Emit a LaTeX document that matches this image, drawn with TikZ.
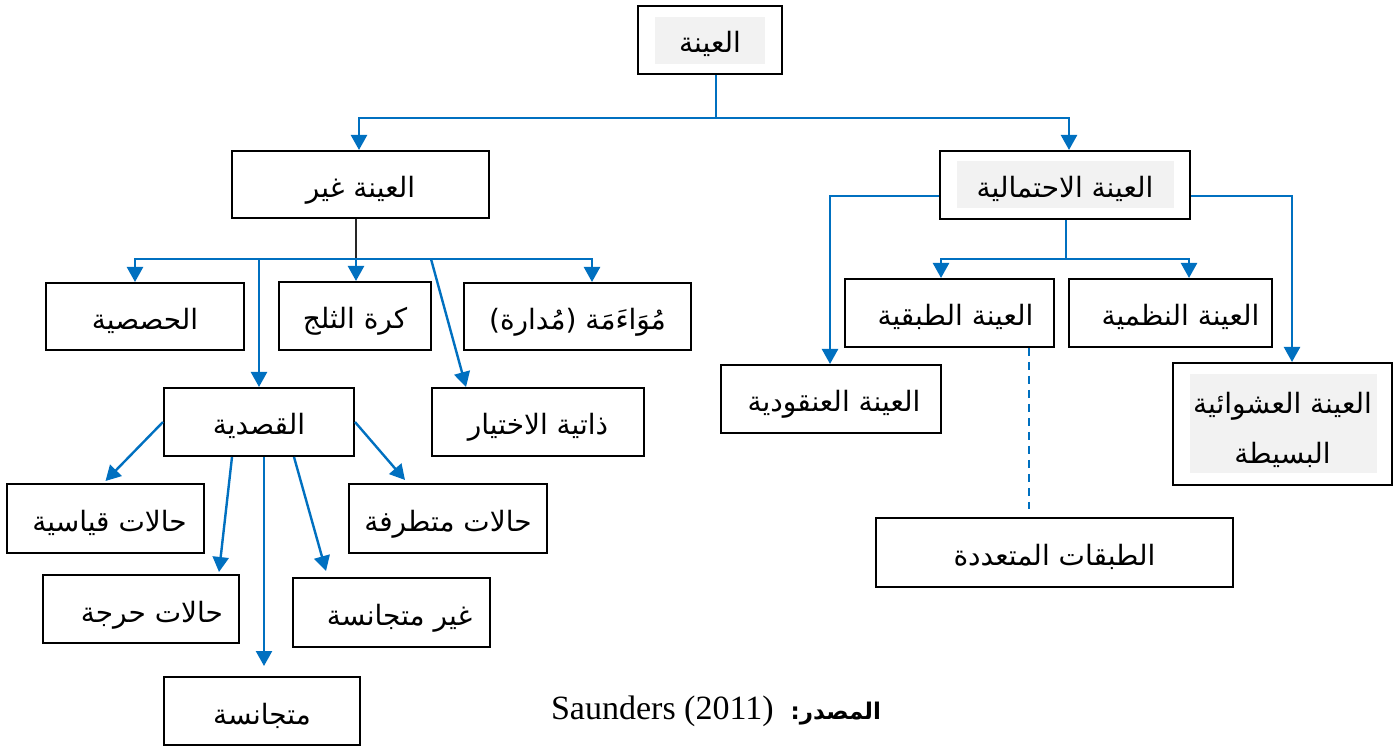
\documentclass[tikz,border=0pt]{standalone}
\usepackage{fontspec}
\setmainfont{Liberation Serif}
\newfontfamily\arabicfont[Script=Arabic]{DejaVu Sans}
\TeXXeTstate=1
\usetikzlibrary{arrows.meta}
\definecolor{linkblue}{HTML}{0070C0}
\definecolor{shadegray}{HTML}{F2F2F2}
\newcommand\artext[1]{{\arabicfont\beginR #1\endR}}

\begin{document}
\begin{tikzpicture}[x=0.5pt,y=-0.5pt,
  box/.style={draw=black, line width=1pt, inner sep=0pt,
    font=\fontsize{14pt}{17pt}\selectfont},
  one/.style={text height=16pt, text depth=3pt},
  link/.style={draw=linkblue, line width=1.2pt},
  arr/.style={link, -{Triangle[length=7.5pt,width=8pt]}},
  dashlink/.style={link, dash pattern=on 4pt off 3pt},
  trunk/.style={draw=black!85, line width=1pt}]

\path[use as bounding box, fill=white] (0,0) rectangle (1395,747);

% shaded text panels behind some labels
\fill[shadegray] (655,17) rectangle (765,64);
\fill[shadegray] (957,161) rectangle (1174,208);
\fill[shadegray] (1190,374) rectangle (1377,473);

% boxes
\node[box, one, minimum width=72pt, minimum height=34pt] (root) at (710,40) {\artext{العينة}};
\node[box, one, minimum width=128.5pt, minimum height=33.5pt] (nonprob) at (360.5,184.5) {\artext{العينة غير}};
\node[box, one, minimum width=125pt, minimum height=34pt] (prob) at (1065,185) {\artext{العينة الاحتمالية}};

\node[box, one, minimum width=99pt, minimum height=33.5pt] (quota) at (145,316.5) {\artext{الحصصية}};
\node[box, one, minimum width=76pt, minimum height=34pt] (snow) at (355,316) {\artext{كرة الثلج}};
\node[box, one, minimum width=113.5pt, minimum height=33.5pt] (conv) at (577.5,316.5) {\artext{مُوَاءَمَة (مُدارة)}};
\node[box, one, minimum width=95pt, minimum height=34pt] (purp) at (259,422) {\artext{القصدية}};
\node[box, one, minimum width=106pt, minimum height=34pt] (self) at (538,422) {\artext{ذاتية الاختيار}};
\node[box, one, minimum width=98.5pt, minimum height=34.5pt] (typical) at (105.5,518.5) {\hspace*{4pt}\artext{حالات قياسية}};
\node[box, one, minimum width=99pt, minimum height=34.5pt] (extreme) at (448,518.5) {\artext{حالات متطرفة}};
\node[box, one, minimum width=98pt, minimum height=34pt] (crit) at (141,609) {\hspace*{11pt}\artext{حالات حرجة}};
\node[box, one, minimum width=98.5pt, minimum height=34.5pt] (heter) at (391.5,612.5) {\hspace*{8pt}\artext{غير متجانسة}};
\node[box, one, minimum width=98pt, minimum height=34pt] (homog) at (262,711) {\artext{متجانسة}};

\node[box, one, minimum width=104.5pt, minimum height=34pt] (strat) at (949.5,313) {\hspace*{6pt}\artext{العينة الطبقية}};
\node[box, one, minimum width=101.5pt, minimum height=34pt] (sys) at (1170.5,313) {\hspace*{10pt}\artext{العينة النظمية}};
\node[box, one, minimum width=110pt, minimum height=34pt] (cluster) at (831,399) {\hspace*{3pt}\artext{العينة العنقودية}};
\node[box, minimum width=109.5pt, minimum height=61pt, align=center] (srs) at (1282.5,424)
  {\rule{0pt}{17pt}\artext{العينة العشوائية}\\[8pt]\artext{البسيطة}};
\node[box, one, minimum width=178.5pt, minimum height=34.5pt] (multi) at (1054.5,552.5) {\artext{الطبقات المتعددة}};

% source line
\node[font=\fontsize{17pt}{20pt}\selectfont, inner sep=0pt] (src) at (716,711)
  {\beginR{\arabicfont\bfseries\fontsize{11.5pt}{18pt}\selectfont المصدر:}\ \ \beginL Saunders (2011)\endL\endR};

% junctions
\coordinate (t1) at (716,118);
\coordinate (n1) at (356,259);
\coordinate (p1) at (1066,259);
\coordinate (dx) at (1029,0);

% top level
\draw[link] (root.south -| t1) -- (t1);
\draw[arr] (t1) -| ([xshift=-0.75pt]nonprob.north);
\draw[arr] (t1) -| ([xshift=2pt]prob.north);

% non-probability branch
\draw[trunk] (nonprob.south -| n1) -- (n1);
\draw[arr] (n1) -| ([xshift=-5pt]quota.north);
\draw[arr] (n1) -| ([xshift=7.25pt]conv.north);
\draw[arr] (n1) -- (snow.north -| n1);
\draw[arr] (n1 -| purp.north) -- (purp.north);
\draw[arr] (n1 -| self.north west) -- ([xshift=17.5pt]self.north west);

% purposive sub-branches
\draw[arr] (purp.west) -- ([yshift=1pt]typical.north);
\draw[arr] (purp.east) -- ([xshift=-21.5pt,yshift=1.5pt]extreme.north);
\draw[arr] ([xshift=-13.5pt]purp.south) -- ([xshift=39pt,yshift=1pt]crit.north);
\draw[arr] ([xshift=2.5pt]purp.south) -- ([xshift=1pt,yshift=5pt]homog.north);
\draw[arr] ([xshift=17.5pt]purp.south) -- ([xshift=-32.75pt,yshift=3pt]heter.north);

% probability branch
\draw[link] (prob.south -| p1) -- (p1);
\draw[arr] (p1) -| ([xshift=-4.25pt]strat.north);
\draw[arr] (p1) -| ([xshift=9.25pt]sys.north);
\draw[arr] ([yshift=-5.5pt]prob.west) -| ([xshift=-0.5pt]cluster.north);
\draw[arr] ([yshift=-5.5pt]prob.east) -| ([xshift=4.75pt]srs.north);
\draw[dashlink] (strat.south -| dx) -- ([yshift=4pt]multi.north -| dx);

\end{tikzpicture}
\end{document}
